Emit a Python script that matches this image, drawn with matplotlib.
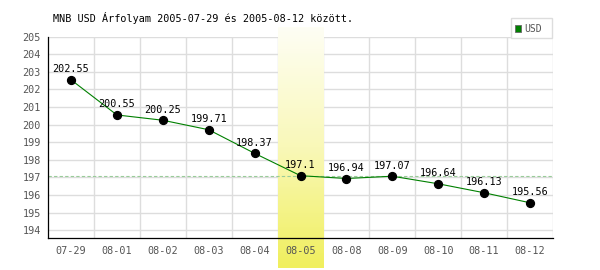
import numpy as np
import matplotlib
matplotlib.use("Agg")
import matplotlib.pyplot as plt
from matplotlib.colors import LinearSegmentedColormap
from matplotlib.patches import Rectangle

# chart data
dates = ["07-29", "08-01", "08-02", "08-03", "08-04", "08-05",
         "08-08", "08-09", "08-10", "08-11", "08-12"]
rates = [202.55, 200.55, 200.25, 199.71, 198.37, 197.1,
         196.94, 197.07, 196.64, 196.13, 195.56]
highlight_idx = 5
title = "MNB USD Árfolyam 2005-07-29 és 2005-08-12 között."
series_name = "USD"

plt.rcParams["font.family"] = ["DejaVu Sans Mono"]

fig = plt.figure(figsize=(6, 2.7), dpi=100)
ax = fig.add_axes([0.08, 0.1185, 0.8417, 0.7459])

x = np.arange(len(dates))
ymin, ymax = 193.56, 205

# highlighted day: vertical yellow gradient, running past the axes
grad = LinearSegmentedColormap.from_list("hl", ["#fefef4", "#f9f8b8", "#f0ef5e"])
ax.imshow(np.linspace(0, 1, 100).reshape(-1, 1), cmap=grad, aspect="auto",
          extent=[highlight_idx - 0.5, highlight_idx + 0.5, 191.88, 205.55],
          origin="upper", clip_on=False, zorder=1)

# grid
for v in range(194, 206):
    ax.axhline(v, color="#dddddd", lw=1, zorder=0)
for k in range(len(dates)):
    ax.axvline(k + 0.5, color="#dddddd", lw=1, zorder=0)

# reference level of highlighted day
ax.axhline(rates[highlight_idx], color="#99cc99", lw=0.8, ls=(0, (3, 2)), zorder=2)

ax.plot(x, rates, color="#008000", lw=0.8, zorder=3)
ax.scatter(x, rates, s=32, color="black", zorder=4)
for xi, v in zip(x, rates):
    ax.annotate(f"{v:g}", (xi, v), xytext=(0, 4), textcoords="offset points",
                ha="center", va="bottom", fontsize=7.3, color="black", zorder=5)

ax.set_xlim(-0.5, len(dates) - 0.5)
ax.set_ylim(ymin, ymax)
ax.set_xticks(x)
ax.set_xticklabels(dates)
ax.set_yticks(range(194, 206))
ax.tick_params(length=0, labelsize=7.3, labelcolor="#555555")
ax.tick_params(axis="x", pad=6)
ax.tick_params(axis="y", pad=5)
for s in ["top", "right"]:
    ax.spines[s].set_visible(False)
for s in ["left", "bottom"]:
    ax.spines[s].set_color("black")
    ax.spines[s].set_linewidth(0.9)
    ax.spines[s].set_zorder(6)
ax.patch.set_alpha(0)

fig.text(53 / 600, 1 - 18 / 270, title, fontsize=7.3, ha="left", va="center")

# legend box
fig.patches.append(Rectangle((511 / 600, 1 - 38 / 270), 41 / 600, 20 / 270,
                             transform=fig.transFigure, facecolor="white",
                             edgecolor="#dddddd", lw=1))
fig.patches.append(Rectangle((515 / 600, 1 - 31.5 / 270), 6 / 600, 6 / 270,
                             transform=fig.transFigure, facecolor="#008000",
                             edgecolor="#666666", lw=0.6))
fig.text(524 / 600, 1 - 28.5 / 270, series_name, fontsize=7, color="#555555",
         ha="left", va="center")

fig.savefig("out.png", dpi=100)
